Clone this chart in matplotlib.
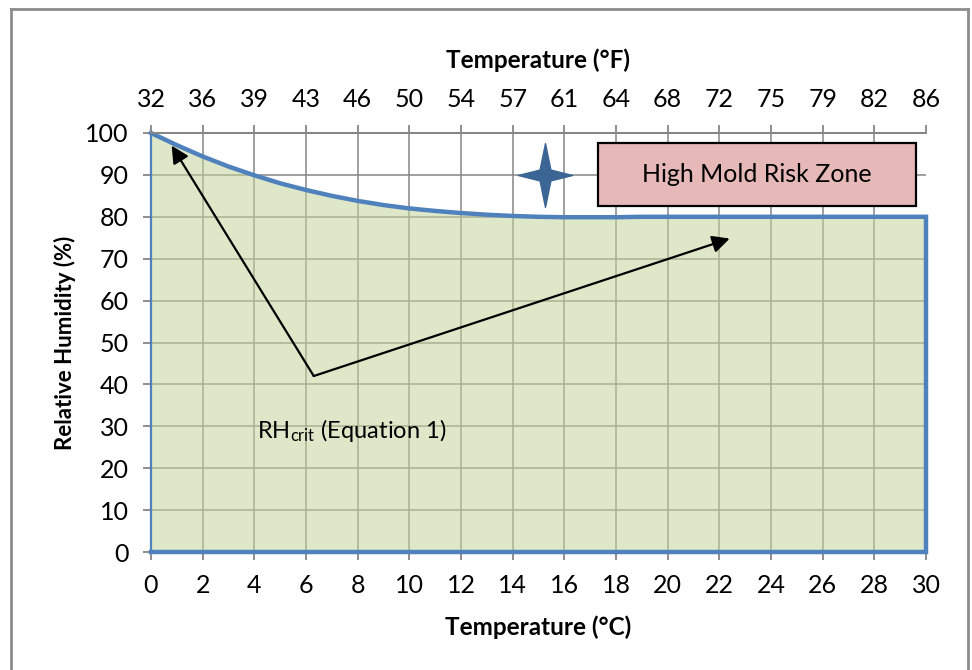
import matplotlib
matplotlib.use("Agg")
import matplotlib.pyplot as plt
from matplotlib.lines import Line2D
from matplotlib.patches import Rectangle

plt.rcParams['font.family'] = ['Lato', 'DejaVu Sans']
plt.rcParams['mathtext.fontset'] = 'custom'
plt.rcParams['mathtext.rm'] = 'Lato'
plt.rcParams['mathtext.it'] = 'Lato'

# ---- data ----
temp_c = [0, 1, 2, 3, 4, 5, 6, 7, 8, 9, 10, 11, 12, 13, 14, 15, 16, 17, 18, 19, 20, 30]
rh_crit = [100, 97.1, 94.4, 92.0, 89.9, 88.0, 86.4, 85.0, 83.8, 82.8, 82.0, 81.4,
           80.9, 80.5, 80.2, 80.0, 79.9, 79.9, 79.9, 80.0, 80.0, 80.0]
x_ticks_c = list(range(0, 31, 2))
y_ticks = list(range(0, 101, 10))
f_tick_labels = ['32', '36', '39', '43', '46', '50', '54', '57', '61', '64',
                 '68', '72', '75', '79', '82', '86']
zone_label = 'High Mold Risk Zone'
curve_label = r'RH$_{\mathrm{crit}}$ (Equation 1)'
arrow_start = (6.3, 42.0)
arrow_tips = [(0.8, 97.0), (22.4, 74.8)]
star_pos = (15.25, 90)

# ---- figure ----
fig = plt.figure(figsize=(9.72, 6.70), dpi=100)
ax = fig.add_axes([151/972, 1-552/670, 775/972, 419/670])

grid_c = '#868686'
ax.set_xlim(0, 30)
ax.set_ylim(0, 100)

# gridlines
for xv in x_ticks_c[1:-1]:
    ax.axvline(xv, color=grid_c, lw=1.1, zorder=1)
for yv in y_ticks[1:-1]:
    ax.axhline(yv, color=grid_c, lw=1.1, zorder=1)

# filled region
ax.fill_between(temp_c, 0, rh_crit, facecolor='#c3d69b', alpha=0.55,
                edgecolor='none', zorder=2)
blue = '#4f81bd'
xs = temp_c + [30, 0]
ys = rh_crit + [0, 0]
ax.plot(xs, ys, color=blue, lw=3.2, solid_joinstyle='miter', clip_on=False, zorder=5)
ax.plot([0, 0], [0, 100], color=blue, lw=1.6, clip_on=False, zorder=5)

# spines
for s in ['left', 'bottom', 'top']:
    ax.spines[s].set_color(grid_c)
    ax.spines[s].set_linewidth(1.4)
ax.spines['right'].set_visible(False)
ax.spines['bottom'].set_zorder(4)

ax.set_xticks(x_ticks_c)
ax.set_yticks(y_ticks)
ax.tick_params(axis='both', direction='out', length=6, width=1.3, color=grid_c,
               labelsize=18, pad=10)

ax.set_xlabel('Temperature (°C)', fontsize=17.5, fontweight='bold', labelpad=13)
ax.set_ylabel('Relative Humidity (%)', fontsize=16, fontweight='bold', labelpad=7)

# top axis (°F)
ax2 = ax.twiny()
ax2.set_xlim(0, 30)
ax2.set_xticks(x_ticks_c)
ax2.set_xticklabels(f_tick_labels)
ax2.tick_params(axis='x', direction='out', length=6, width=1.3, color=grid_c,
                labelsize=18, pad=10)
for s in ['left', 'bottom', 'right']:
    ax2.spines[s].set_visible(False)
ax2.spines['top'].set_color(grid_c)
ax2.spines['top'].set_linewidth(1.4)
ax2.set_xlabel('Temperature (°F)', fontsize=17.5, fontweight='bold', labelpad=14)

# high risk zone box
ax.add_patch(Rectangle((17.3, 82.6), 12.3, 14.9, facecolor='#e6b9b8',
                       edgecolor='black', lw=1.6, zorder=6))
ax.text(23.45, 90.0, zone_label, fontsize=18, ha='center', va='center', zorder=7)

# star marker
star = [(0, 1), (0.17, 0.17), (0.85, 0), (0.17, -0.17), (0, -1), (-0.17, -0.17),
        (-0.85, 0), (-0.17, 0.17), (0, 1)]
ax.plot([star_pos[0]], [star_pos[1]], marker=star, markersize=46,
        color='#3b6595', zorder=7, clip_on=False)

# arrows
for tip in arrow_tips:
    ax.annotate('', xy=tip, xytext=arrow_start,
                arrowprops=dict(arrowstyle='-|>', color='black', lw=1.6,
                                mutation_scale=26, shrinkA=0, shrinkB=0),
                zorder=8)

ax.text(4.1, 29.1, curve_label, fontsize=17, ha='left', va='center', zorder=8)

# outer frame
fc = '#8c8c8c'
fig.add_artist(Line2D([11/972, 11/972], [0, 1-9/670], color=fc, lw=2))
fig.add_artist(Line2D([11/972, 968/972], [1-9/670, 1-9/670], color=fc, lw=2))
fig.add_artist(Line2D([968/972, 968/972], [0, 1-9/670], color=fc, lw=2))

fig.savefig('out.png', dpi=100)
